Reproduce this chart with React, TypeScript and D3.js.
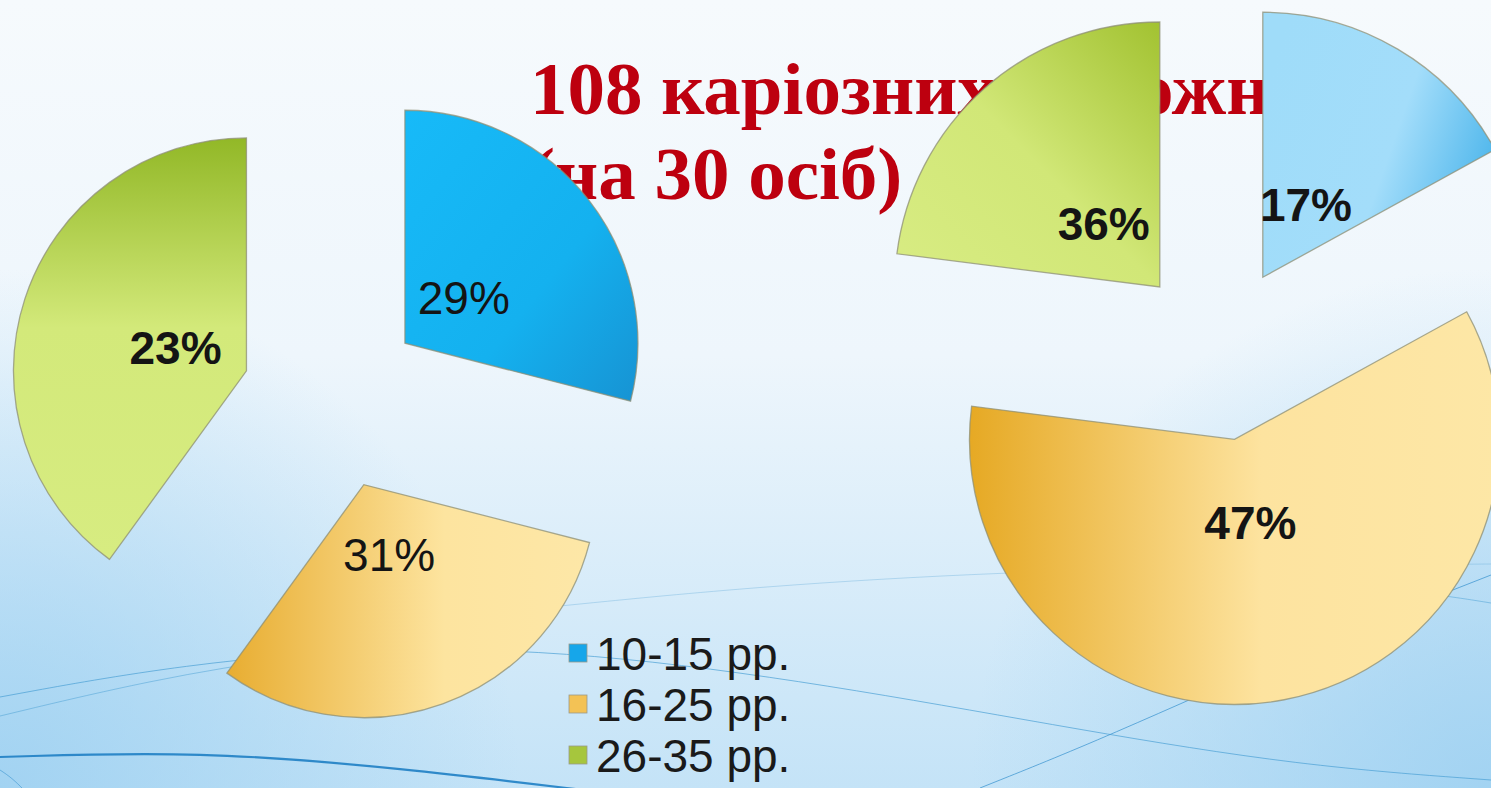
import { useEffect, useRef } from 'react';
import * as d3 from 'd3';

// age groups (legend order = slice order)
const categories = ['10-15 рр.', '16-25 рр.', '26-35 рр.'];

// slice sizes as drawn, and the labels printed on them
const leftValues = [29, 31, 40];
const leftLabels = ['29%', '31%', '23%'];
const leftBold = [false, false, true];

const rightValues = [17, 60, 23];
const rightLabels = ['17%', '47%', '36%'];
const rightBold = [true, true, true];

const titleLines = ['108 каріозних порожнин', '(на 30 осіб)'];

const W = 1491;
const H = 788;

type Stop = [number, string];
type Grad = { id: string; x1: number; y1: number; x2: number; y2: number; stops: Stop[] };

const grads: Grad[] = [
  { id: 'lBlue', x1: 0, y1: 0, x2: 1, y2: 1, stops: [[0, '#17baf8'], [0.6, '#14b1ef'], [1, '#1793d3']] },
  { id: 'lOrange', x1: 0, y1: 0.5, x2: 1, y2: 0.5, stops: [[0, '#e8ad31'], [0.6, '#fde49f'], [1, '#fde7a7']] },
  { id: 'lGreen', x1: 0.5, y1: 0, x2: 0.5, y2: 1, stops: [[0, '#92b827'], [0.45, '#d3e97a'], [1, '#d7ec81']] },
  { id: 'rBlue', x1: 0, y1: 0.3, x2: 1, y2: 0.7, stops: [[0, '#9fdcf9'], [0.55, '#a3ddfa'], [1, '#45b2ea']] },
  { id: 'rOrange', x1: 0, y1: 0.5, x2: 1, y2: 0.5, stops: [[0, '#e6a924'], [0.55, '#fde39f'], [1, '#fde7a6']] },
  { id: 'rGreen', x1: 1, y1: 0, x2: 0, y2: 1, stops: [[0, '#a2c231'], [0.5, '#d1e777'], [1, '#d8ec83']] },
  { id: 'bg', x1: 0, y1: 0, x2: 0, y2: 1, stops: [[0, '#f6fafd'], [0.45, '#eef6fc'], [1, '#c4e3f7']] },
];

const legendColors = ['#16a6ea', '#f3c255', '#a6c63d'];

export default function App() {
  const svgRef = useRef<SVGSVGElement>(null);

  useEffect(() => {
    if (!svgRef.current) return;
    document.body.style.margin = '0';

    const svg = d3.select(svgRef.current).attr('width', W).attr('height', H);
    svg.selectAll('*').remove();

    const defs = svg.append('defs');
    grads.forEach(g => {
      const lg = defs.append('linearGradient')
        .attr('id', g.id)
        .attr('x1', g.x1).attr('y1', g.y1).attr('x2', g.x2).attr('y2', g.y2);
      g.stops.forEach(([o, c]) => lg.append('stop').attr('offset', o).attr('stop-color', c));
    });
    const corner = (id: string, cx: number) => {
      const rg = defs.append('radialGradient').attr('id', id)
        .attr('gradientUnits', 'userSpaceOnUse')
        .attr('cx', cx).attr('cy', H).attr('r', 520);
      rg.append('stop').attr('offset', 0).attr('stop-color', '#9cd0f1').attr('stop-opacity', 0.85);
      rg.append('stop').attr('offset', 1).attr('stop-color', '#9cd0f1').attr('stop-opacity', 0);
    };
    corner('cornerL', 0);
    corner('cornerR', W);

    // background
    svg.append('rect').attr('width', W).attr('height', H).attr('fill', 'url(#bg)');
    svg.append('rect').attr('width', W).attr('height', H).attr('fill', 'url(#cornerL)');
    svg.append('rect').attr('width', W).attr('height', H).attr('fill', 'url(#cornerR)');

    // decorative theme curves
    const curve = d3.line().curve(d3.curveBasis);
    const swirls: { pts: [number, number][]; w: number; c: string; o: number }[] = [
      { pts: [[0, 697], [180, 664], [400, 645], [620, 655], [860, 690], [1080, 730], [1300, 766], [1491, 780]], w: 1, c: '#4a9fd4', o: 0.7 },
      { pts: [[0, 716], [150, 680], [300, 655], [460, 640]], w: 1, c: '#4a9fd4', o: 0.5 },
      { pts: [[560, 606], [760, 586], [1000, 572], [1250, 566], [1491, 564]], w: 1, c: '#6fb2dc', o: 0.4 },
      { pts: [[980, 788], [1105, 738], [1300, 650], [1491, 575]], w: 1, c: '#3d96d0', o: 0.75 },
      { pts: [[0, 757], [200, 751], [400, 768], [600, 792]], w: 2.2, c: '#1f7fc4', o: 0.9 },
      { pts: [[0, 770], [12, 778], [24, 790]], w: 1, c: '#3d96d0', o: 0.6 },
      { pts: [[1430, 594], [1460, 598], [1491, 603]], w: 1, c: '#4a9fd4', o: 0.5 },
    ];
    swirls.forEach(s => {
      svg.append('path').attr('d', curve(s.pts))
        .attr('fill', 'none').attr('stroke', s.c).attr('stroke-width', s.w).attr('opacity', s.o);
    });

    // title (sits behind the pies)
    svg.append('g')
      .selectAll('text')
      .data(titleLines)
      .enter()
      .append('text')
      .attr('x', 530)
      .attr('y', (_, i) => 114 + i * 85)
      .attr('font-family', '"Liberation Serif", "Times New Roman", serif')
      .attr('font-weight', 700)
      .attr('font-size', 75)
      .attr('fill', '#bd000f')
      .text(d => d);

    const drawPie = (
      values: number[], labels: string[], bold: boolean[], fills: string[],
      cx: number, cy: number, r: number, explode: number
    ) => {
      const pie = d3.pie<number>().sort(null).value(d => d);
      const arcs = pie(values);
      const arc = d3.arc<d3.PieArcDatum<number>>().innerRadius(0).outerRadius(r);
      const labelArc = d3.arc<d3.PieArcDatum<number>>().innerRadius(0).outerRadius(r * 0.64);
      const shift = (d: d3.PieArcDatum<number>) => {
        const a = (d.startAngle + d.endAngle) / 2;
        return [cx + explode * Math.sin(a), cy - explode * Math.cos(a)];
      };

      const g = svg.append('g');
      const slice = g.selectAll('g.slice')
        .data(arcs)
        .enter()
        .append('g')
        .attr('class', 'slice')
        .attr('transform', d => `translate(${shift(d).join(',')})`);

      slice.append('path')
        .attr('d', arc)
        .attr('fill', (_, i) => fills[i])
        .attr('stroke', '#8d8f74')
        .attr('stroke-opacity', 0.75)
        .attr('stroke-width', 1.3);

      slice.append('text')
        .attr('transform', d => `translate(${labelArc.centroid(d).join(',')})`)
        .attr('text-anchor', 'middle')
        .attr('dy', '0.36em')
        .attr('font-family', '"Liberation Sans", Arial, sans-serif')
        .attr('font-size', 46)
        .attr('font-weight', (_, i) => (bold[i] ? 700 : 400))
        .attr('fill', '#141414')
        .text((_, i) => labels[i]);
    };

    drawPie(leftValues, leftLabels, leftBold, ['url(#lBlue)', 'url(#lOrange)', 'url(#lGreen)'], 333, 399, 233, 91);
    drawPie(rightValues, rightLabels, rightBold, ['url(#rBlue)', 'url(#rOrange)', 'url(#rGreen)'], 1218, 353, 265, 88);

    // legend
    const legend = svg.append('g').attr('transform', 'translate(569,670)');
    const item = legend.selectAll('g')
      .data(categories)
      .enter()
      .append('g')
      .attr('transform', (_, i) => `translate(0,${i * 51})`);
    item.append('rect')
      .attr('x', 0).attr('y', -26).attr('width', 18).attr('height', 18)
      .attr('fill', (_, i) => legendColors[i])
      .attr('stroke', '#9a9a8a').attr('stroke-width', 0.8);
    item.append('text')
      .attr('x', 27)
      .attr('y', 0)
      .attr('font-family', '"Liberation Sans", Arial, sans-serif')
      .attr('font-size', 46)
      .attr('fill', '#1a1a1a')
      .text(d => d);
  }, []);

  return <svg ref={svgRef} style={{ display: 'block' }}></svg>;
}
